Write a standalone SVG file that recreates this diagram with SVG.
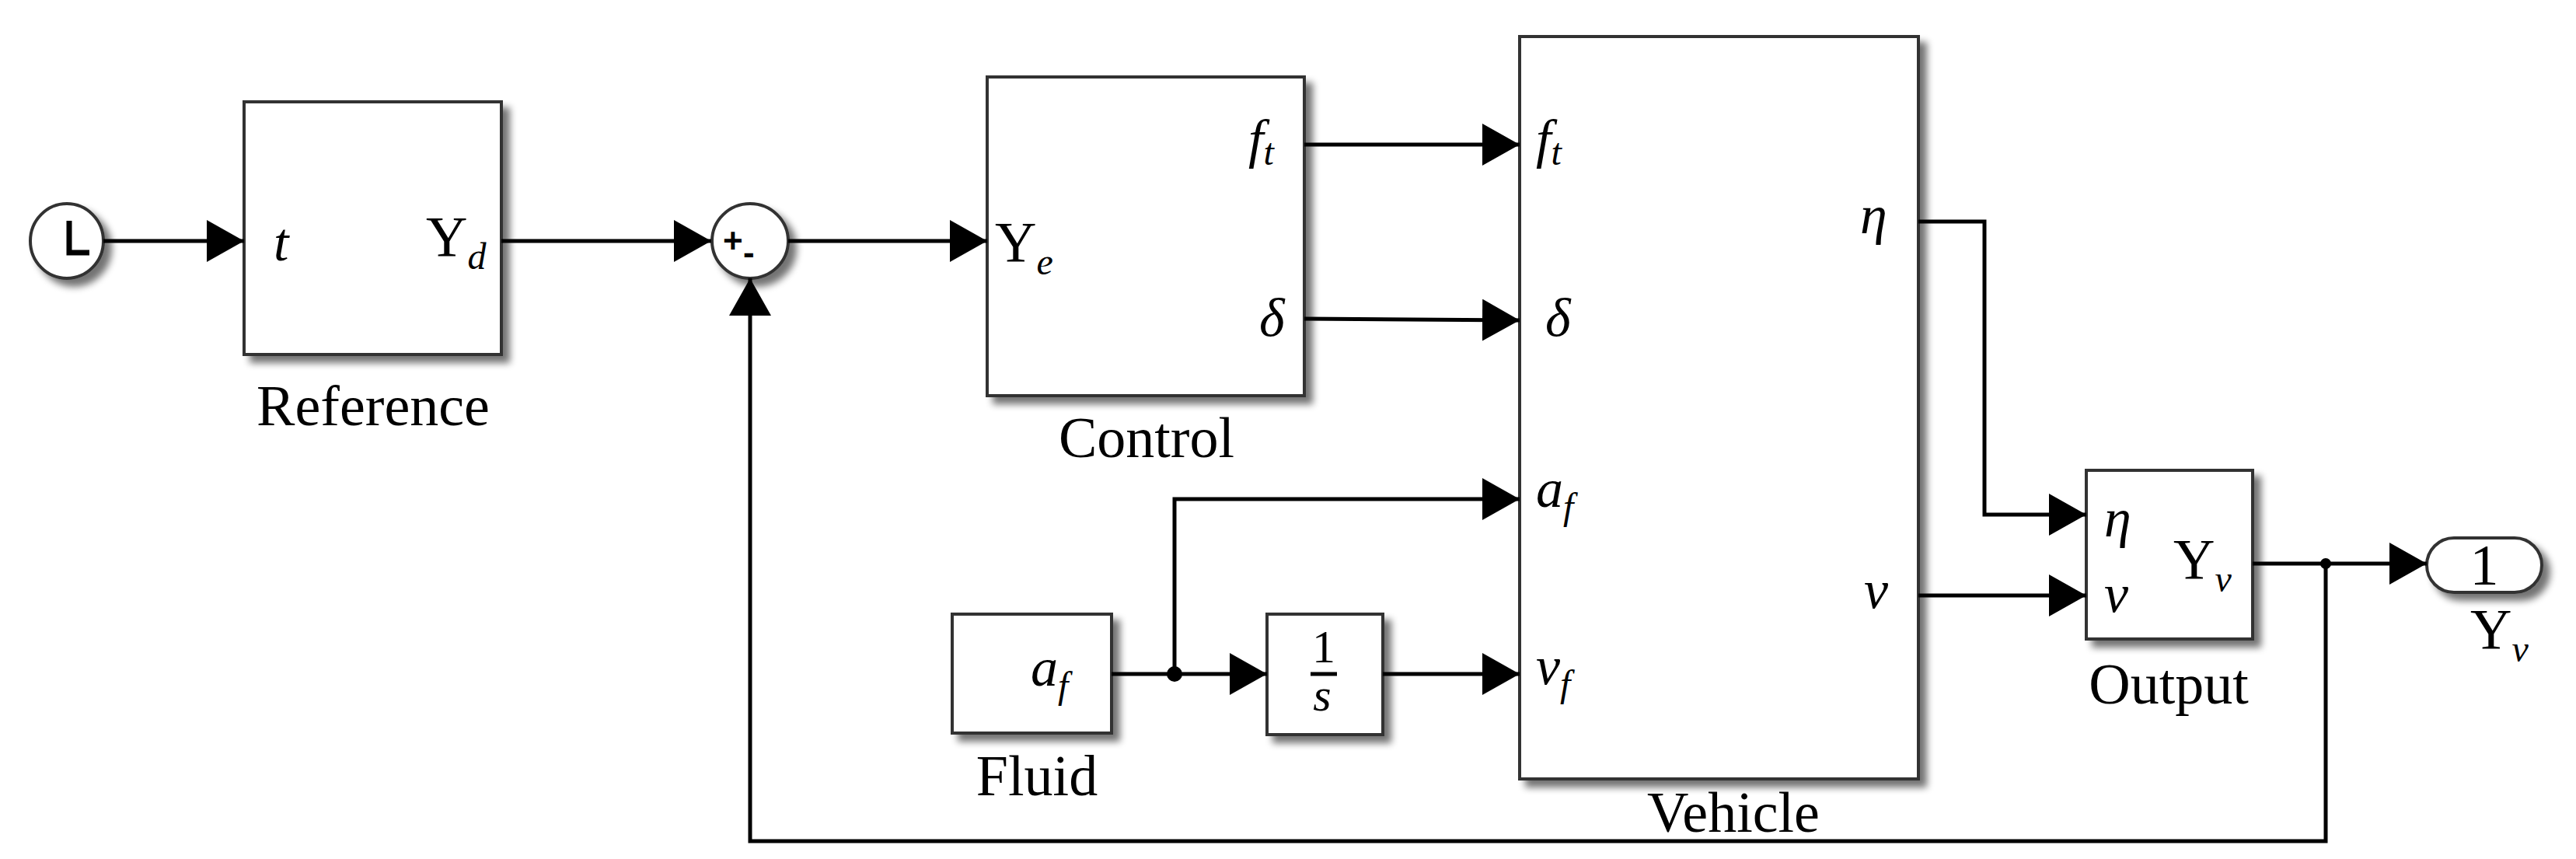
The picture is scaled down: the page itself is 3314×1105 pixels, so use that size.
<svg xmlns="http://www.w3.org/2000/svg" width="3314" height="1105" viewBox="0 0 3314 1105">
<style>
.b{fill:#fff;stroke:#333;stroke-width:4;filter:url(#sh)}
.t{font-family:"Liberation Serif",serif;font-size:74px;fill:#000}
.m{font-family:"Liberation Serif",serif;font-style:italic;font-size:70px;fill:#000}
.s{font-size:48px}
.w{fill:none;stroke:#000;stroke-width:5}
</style>
<defs>
<filter id="sh" x="-20%" y="-20%" width="150%" height="150%"><feGaussianBlur in="SourceAlpha" stdDeviation="5"/><feOffset dx="9" dy="9"/><feComponentTransfer><feFuncA type="linear" slope="0.55"/></feComponentTransfer><feMerge><feMergeNode/><feMergeNode in="SourceGraphic"/></feMerge></filter>
<marker id="A" viewBox="0 0 48 54" markerWidth="48" markerHeight="54" refX="48" refY="27" orient="auto" markerUnits="userSpaceOnUse"><path d="M0,0L48,27L0,54z" fill="#000"/></marker>
</defs>
<g id="clock"><ellipse class="b" cx="86" cy="310" rx="47" ry="48"/><path d="M89,284V325H115" fill="none" stroke="#000" stroke-width="7"/></g>
<g id="reference"><rect class="b" x="314" y="131" width="331" height="325"/><text class="m" x="352" y="335">t</text><text class="t" x="548" y="330">Υ<tspan class="m s" dy="16">d</tspan></text><text class="t" x="480" y="547" text-anchor="middle">Reference</text></g>
<g id="sum"><ellipse class="b" cx="965" cy="310" rx="49" ry="48"/><text x="930" y="325" font-family="Liberation Sans,sans-serif" font-weight="bold" font-size="44">+</text><text x="956" y="340" font-family="Liberation Sans,sans-serif" font-weight="bold" font-size="44">-</text></g>
<g id="control"><rect class="b" x="1270" y="99" width="408" height="410"/><text class="t" x="1280" y="337">Υ<tspan class="m s" dy="16">e</tspan></text><text class="m" x="1606" y="202">f<tspan class="s" dy="10">t</tspan></text><text class="m" x="1620" y="432">δ</text><text class="t" x="1475" y="588" text-anchor="middle">Control</text></g>
<g id="vehicle"><rect class="b" x="1955" y="47" width="513" height="955"/><text class="m" x="1976" y="202">f<tspan class="s" dy="10">t</tspan></text><text class="m" x="1988" y="432">δ</text><text class="m" x="1976" y="652">a<tspan class="s" dy="16">f</tspan></text><text class="m" x="1976" y="880">v<tspan class="s" dy="16">f</tspan></text><text class="m" x="2393" y="300">η</text><text class="m" x="2398" y="782">ν</text><text class="t" x="2230" y="1070" text-anchor="middle">Vehicle</text></g>
<g id="fluid"><rect class="b" x="1225" y="790" width="205" height="153"/><text class="m" x="1326" y="882">a<tspan class="s" dy="16">f</tspan></text><text class="t" x="1334" y="1023" text-anchor="middle">Fluid</text></g>
<g id="integrator"><rect class="b" x="1630" y="790" width="149" height="155"/><text x="1703" y="852" text-anchor="middle" font-family="Liberation Serif,serif" font-size="60">1</text><line x1="1686" y1="867" x2="1720" y2="867" stroke="#000" stroke-width="5"/><text x="1701" y="914" text-anchor="middle" font-family="Liberation Serif,serif" font-style="italic" font-size="60">s</text></g>
<g id="output"><rect class="b" x="2684" y="605" width="214" height="217"/><text class="m" x="2707" y="690">η</text><text class="m" x="2707" y="787">ν</text><text class="t" x="2796" y="745">Υ<tspan class="m s" dy="16">v</tspan></text><text class="t" x="2790" y="905" text-anchor="middle">Output</text></g>
<g id="outport"><rect class="b" x="3122" y="692" width="148" height="70" rx="35"/><text class="t" x="3196" y="752" text-anchor="middle">1</text><text class="t" x="3178" y="835">Υ<tspan class="m s" dy="16">v</tspan></text></g>
<g id="connectors">
<path class="w" d="M133,310H314" marker-end="url(#A)"/>
<path class="w" d="M645,310H915" marker-end="url(#A)"/>
<path class="w" d="M1014,310H1270" marker-end="url(#A)"/>
<path class="w" d="M1678,186H1955" marker-end="url(#A)"/>
<path class="w" d="M1678,410L1955,412" marker-end="url(#A)"/>
<path class="w" d="M1430,867H1630" marker-end="url(#A)"/>
<path class="w" d="M1511,867V642H1955" marker-end="url(#A)"/>
<path class="w" d="M1779,867H1955" marker-end="url(#A)"/>
<path class="w" d="M2468,285H2553V662H2684" marker-end="url(#A)"/>
<path class="w" d="M2468,766H2684" marker-end="url(#A)"/>
<path class="w" d="M2898,725H3122" marker-end="url(#A)"/>
<path class="w" d="M2992,725V1082H965V358" marker-end="url(#A)"/>
<circle cx="1511" cy="867" r="10"/><circle cx="2992" cy="725" r="7"/>
</g>
</svg>
